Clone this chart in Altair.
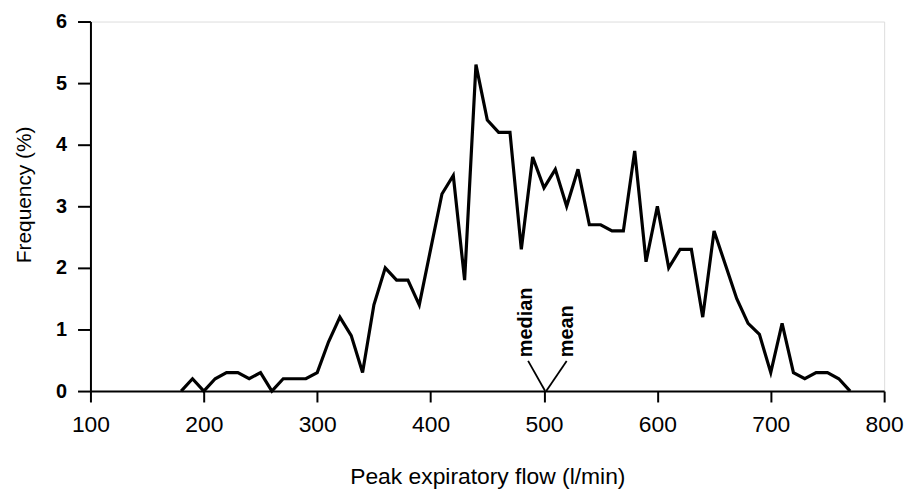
import altair as alt
import pandas as pd

flow = list(range(180, 780, 10))
freq = [0, 0.2, 0, 0.2, 0.3, 0.3, 0.2, 0.3, 0, 0.2,
        0.2, 0.2, 0.3, 0.8, 1.2, 0.9, 0.3, 1.4, 2.0, 1.8,
        1.8, 1.4, 2.3, 3.2, 3.5, 1.8, 5.3, 4.4, 4.2, 4.2,
        2.3, 3.8, 3.3, 3.6, 3.0, 3.6, 2.7, 2.7, 2.6, 2.6,
        3.9, 2.1, 3.0, 2.0, 2.3, 2.3, 1.2, 2.6, 2.05, 1.5,
        1.1, 0.92, 0.3, 1.1, 0.3, 0.2, 0.3, 0.3, 0.2, 0]

ann_labels = ["median", "mean"]
ann_x_top = [486, 520]
ann_y_top = [0.49, 0.49]
ann_x_base = [501, 502]
ann_y_base = [0, 0]
ann_text_x = [484.5, 520.5]
ann_text_y = [0.55, 0.55]

df = pd.DataFrame({"flow": flow, "freq": freq})
ann = pd.DataFrame({"label": ann_labels, "x": ann_x_top, "y": ann_y_top,
                    "x2": ann_x_base, "y2": ann_y_base,
                    "tx": ann_text_x, "ty": ann_text_y})

FONT = "Liberation Sans"

xscale = alt.Scale(domain=[100, 800], nice=False, zero=False)
yscale = alt.Scale(domain=[0, 6], nice=False)

xaxis = alt.Axis(values=list(range(100, 900, 100)), title="Peak expiratory flow (l/min)",
                 grid=False, domainColor="black", domainWidth=2, tickColor="black",
                 tickWidth=2, tickSize=11, labelFont=FONT, labelFontSize=23,
                 labelColor="black", labelPadding=12, labelFlush=False, labelOverlap=False,
                 titleFont=FONT, titleFontSize=23,
                 titleFontWeight="normal", titleColor="black", titleBaseline="top",
                 titleY=75)
yaxis = alt.Axis(values=[0, 1, 2, 3, 4, 5, 6], format="d", title="Frequency (%)", grid=False,
                 domainColor="black", domainWidth=2, tickColor="black", tickWidth=2,
                 tickSize=13, labelFont=FONT, labelFontSize=20, labelFontWeight="bold",
                 labelColor="black", labelPadding=11, labelFlush=False, labelOverlap=False,
                 titleFont=FONT, titleFontSize=21,
                 titleFontWeight="normal", titleColor="black", titleBaseline="bottom",
                 titleX=-56, titleY=174, titleAngle=-90)

line = alt.Chart(df).mark_line(color="black", strokeWidth=3.2, strokeJoin="miter").encode(
    x=alt.X("flow:Q", scale=xscale, axis=xaxis),
    y=alt.Y("freq:Q", scale=yscale, axis=yaxis),
)

rules = alt.Chart(ann).mark_rule(color="black", strokeWidth=1.8).encode(
    x=alt.X("x:Q", scale=xscale), y=alt.Y("y:Q", scale=yscale),
    x2="x2:Q", y2="y2:Q",
)

texts = alt.Chart(ann).mark_text(angle=270, align="left", baseline="middle",
                                 font=FONT, fontSize=20, fontWeight="bold",
                                 color="black").encode(
    x=alt.X("tx:Q", scale=xscale), y=alt.Y("ty:Q", scale=yscale), text="label:N",
)

chart = alt.layer(line, rules, texts).properties(
    width=799, height=372,
    padding={"left": 83, "top": 12, "right": 22, "bottom": 100},
    autosize=alt.AutoSizeParams(type="none"),
).configure_view(stroke=None).configure(background="white")

chart.save("out.html", embed_options={"renderer": "svg", "actions": False})
